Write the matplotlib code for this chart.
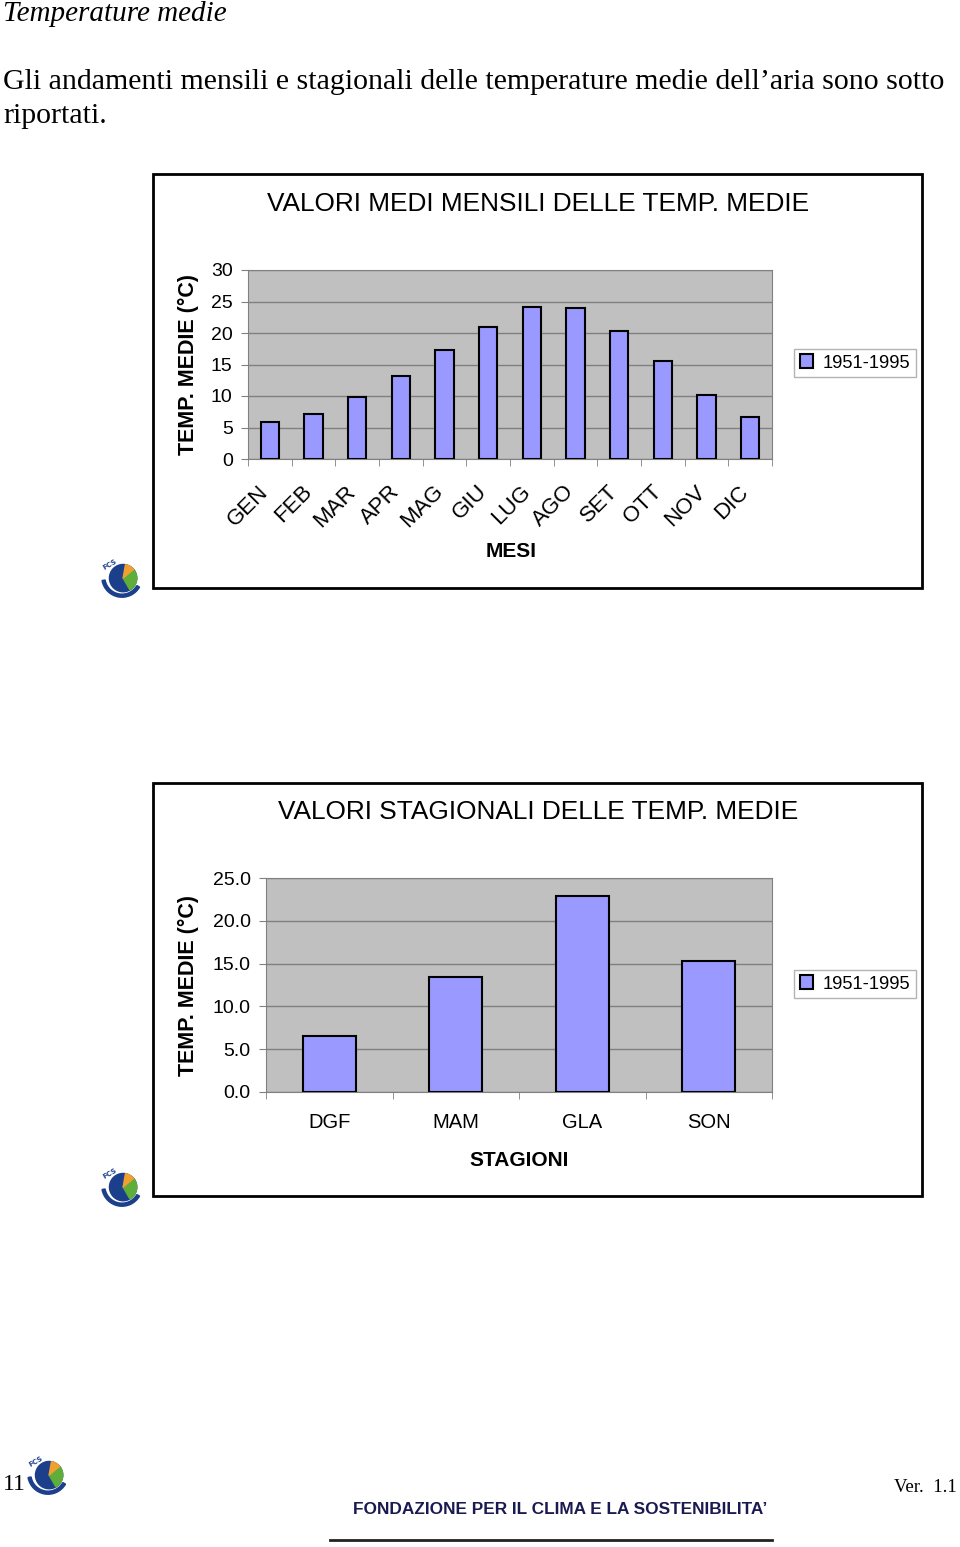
import numpy as np
import matplotlib.pyplot as plt
import matplotlib.transforms as mtransforms
from matplotlib.patches import Rectangle, Circle, Wedge

mesi = ["GEN", "FEB", "MAR", "APR", "MAG", "GIU", "LUG", "AGO", "SET", "OTT", "NOV", "DIC"]
temp_mensili = [5.8, 7.1, 9.9, 13.2, 17.3, 21.0, 24.1, 23.9, 20.3, 15.5, 10.2, 6.6]
stagioni = ["DGF", "MAM", "GLA", "SON"]
temp_stagionali = [6.5, 13.4, 22.9, 15.3]
periodo = "1951-1995"

W, H = 960, 1547
fig = plt.figure(figsize=(W / 100, H / 100), dpi=100)
sans = "Liberation Sans"
serif = "Liberation Serif"


def box(x0, y0, x1, y1):
    # pixel box (top-left origin) -> figure fraction
    return [x0 / W, 1 - y1 / H, (x1 - x0) / W, (y1 - y0) / H]


def fx(x):
    return x / W


def fy(y):
    return 1 - y / H


def logo(cx, cy, r):
    ax = fig.add_axes(box(cx - r, cy - r, cx + r, cy + r))
    ax.set_xlim(-1, 1)
    ax.set_ylim(-1, 1)
    ax.axis("off")
    ax.add_patch(Circle((0.05, -0.05), 0.62, color="#1c3f8c"))
    ax.add_patch(Wedge((0.05, -0.05), 0.62, -60, 40, color="#5fae3a"))
    ax.add_patch(Wedge((0.05, -0.05), 0.62, 40, 80, color="#f0a030"))
    ax.add_patch(Wedge((0.0, 0.0), 0.92, 190, 330, width=0.14, color="#1c3f8c"))
    ax.text(-0.55, 0.55, "FCS", fontsize=5, color="#1c3f8c", rotation=30,
            fontweight="bold", ha="center", va="center")


# header text
fig.text(fx(3), fy(14), "Temperature medie", family=serif, style="italic",
         fontsize=21, va="center", ha="left")
fig.text(fx(3), fy(82), "Gli andamenti mensili e stagionali delle temperature medie dell\u2019aria sono sotto",
         family=serif, fontsize=21.5, va="center", ha="left")
fig.text(fx(3), fy(116), "riportati.", family=serif, fontsize=21.5, va="center", ha="left")


def chart(frame, plot, title, title_y, cats, vals, ymax, ystep, fmt, xlabel, xlabel_y,
          rotate, legend_y, ylabel_x):
    fig.patches.append(Rectangle((fx(frame[0]), fy(frame[3])),
                                 (frame[2] - frame[0]) / W, (frame[3] - frame[1]) / H,
                                 transform=fig.transFigure, fill=False, lw=2, ec="black"))
    fig.text(fx((frame[0] + frame[2]) / 2 + 1), fy(title_y), title, family=sans,
             fontsize=18.9, ha="center", va="center")
    ax = fig.add_axes(box(*plot))
    x = np.arange(len(cats))
    ax.set_facecolor("#c0c0c0")
    ax.set_axisbelow(True)
    ax.yaxis.grid(True, color="#808080", lw=1)
    bars = ax.bar(x, vals, width=0.42, color="#9999ff", edgecolor="black", lw=1.5,
                  zorder=3)
    ax.set_xlim(-0.5, len(cats) - 0.5)
    ax.set_ylim(0, ymax)
    yt = np.arange(0, ymax + 0.01, ystep)
    ax.set_yticks(yt)
    ax.set_yticklabels([fmt.format(v) for v in yt], family=sans, fontsize=14)
    ax.set_xticks(np.arange(-0.5, len(cats)), minor=True)
    ax.set_xticks(x)
    ax.tick_params(axis="x", which="major", length=0, pad=15 if not rotate else 16)
    ax.tick_params(axis="x", which="minor", length=5, color="#808080")
    ax.tick_params(axis="y", length=5, color="#808080", pad=6)
    if rotate:
        ax.set_xticklabels(cats, rotation=45, ha="right", va="top", family=sans,
                           fontsize=16, rotation_mode="anchor")
        shift = mtransforms.ScaledTranslation(-12 / 100, 0, fig.dpi_scale_trans)
        for lab in ax.get_xticklabels():
            lab.set_transform(lab.get_transform() + shift)
    else:
        ax.set_xticklabels(cats, family=sans, fontsize=14.5)
    for s in ax.spines.values():
        s.set_color("#808080")
    fig.text(fx(ylabel_x), fy((plot[1] + plot[3]) / 2), "TEMP. MEDIE (\u00b0C)",
             family=sans, fontweight="bold", fontsize=15.5, rotation=90,
             ha="center", va="center")
    fig.text(fx(xlabel[1]), fy(xlabel_y), xlabel[0], family=sans, fontweight="bold",
             fontsize=15, ha="center", va="center")
    leg = ax.legend([bars], [periodo], loc="center",
                    bbox_to_anchor=(fx(855), fy(legend_y)), bbox_transform=fig.transFigure,
                    prop={"family": sans, "size": 13.2}, frameon=True, fancybox=False,
                    handlelength=0.75, handleheight=0.75, handletextpad=0.5,
                    borderpad=0.3, edgecolor="#a0a0a0", borderaxespad=0)
    leg.get_frame().set_linewidth(1)
    return ax


chart((153, 174, 922, 588), (248, 270, 772, 459), "VALORI MEDI MENSILI DELLE TEMP. MEDIE",
      204, mesi, temp_mensili, 30, 5, "{:.0f}", ("MESI", 511), 551, True, 363, 188)
chart((153, 783, 922, 1196), (266, 878, 772, 1092), "VALORI STAGIONALI DELLE TEMP. MEDIE",
      812, stagioni, temp_stagionali, 25, 5, "{:.1f}", ("STAGIONI", 519), 1160, False, 984, 188)

logo(122, 577, 22)
logo(122, 1186, 22)
logo(48, 1474, 22)

# footer
fig.text(fx(3), fy(1484), "11", family=serif, fontsize=17, ha="left", va="center")
fig.text(fx(957), fy(1487), "Ver.  1.1", family=serif, fontsize=13.5, ha="right", va="center")
fig.text(fx(560), fy(1510), "FONDAZIONE PER IL CLIMA E LA SOSTENIBILITA\u2019", family=sans,
         fontweight="bold", fontsize=12.4, color="#1a1a50", ha="center", va="center")
fig.lines.append(plt.Line2D([fx(330), fx(772)], [fy(1540), fy(1540)],
                            transform=fig.transFigure, color="#222222", lw=2))

fig.savefig("out.png", dpi=100)
